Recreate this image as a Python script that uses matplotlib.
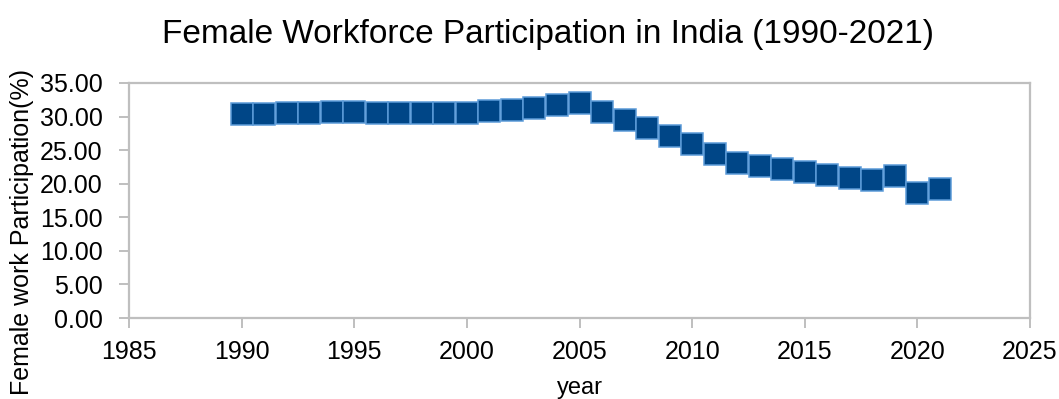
import matplotlib
matplotlib.use("Agg")
import matplotlib.pyplot as plt

# Female workforce participation rate in India, by year (%)
years = [1990, 1991, 1992, 1993, 1994, 1995, 1996, 1997, 1998, 1999, 2000,
         2001, 2002, 2003, 2004, 2005, 2006, 2007, 2008, 2009, 2010,
         2011, 2012, 2013, 2014, 2015, 2016, 2017, 2018, 2019, 2020, 2021]
participation = [30.43, 30.42, 30.48, 30.58, 30.68, 30.68, 30.60, 30.58, 30.53, 30.53, 30.48,
                 30.78, 31.03, 31.35, 31.70, 32.00, 30.73, 29.49, 28.27, 27.10, 25.96,
                 24.47, 23.08, 22.60, 22.19, 21.79, 21.31, 20.89, 20.49, 21.16, 18.60, 19.25]

x_ticks = [1985, 1990, 1995, 2000, 2005, 2010, 2015, 2020, 2025]
y_ticks = [0, 5, 10, 15, 20, 25, 30, 35]

plt.rcParams['font.family'] = ['Liberation Sans', 'DejaVu Sans']

W, H = 1059, 399
fig = plt.figure(figsize=(W / 100, H / 100), dpi=100)
ax = fig.add_axes([129 / W, 81 / H, 901 / W, 235 / H])

ax.plot(years, participation, linestyle='none', marker='s', markersize=15.2,
        markerfacecolor='#004687', markeredgecolor='#5c9bd8', markeredgewidth=1.1,
        clip_on=False)

ax.set_xlim(1985, 2025)
ax.set_ylim(0, 35)
ax.set_xticks(x_ticks)
ax.set_yticks(y_ticks)
ax.set_yticklabels([f"{v:.2f}" for v in y_ticks])

spine_color = '#bfbfbf'
for s in ax.spines.values():
    s.set_color(spine_color)
    s.set_linewidth(1.6)
ax.tick_params(axis='both', colors=spine_color, length=7, width=1.4, direction='out',
               labelcolor='black', labelsize=18, pad=9)
ax.tick_params(axis='y', pad=12)

fig.text(548.5 / W, 1 - 35 / H, "Female Workforce Participation in India (1990-2021)",
         ha='center', va='center', fontsize=24)
fig.text(580 / W, 1 - 388 / H, "year", ha='center', va='center', fontsize=17)
fig.text(22 / W, 1 - 232 / H, "Female work Participation(%)", rotation=90,
         ha='center', va='center', fontsize=18)

fig.savefig("out.png", dpi=100)
